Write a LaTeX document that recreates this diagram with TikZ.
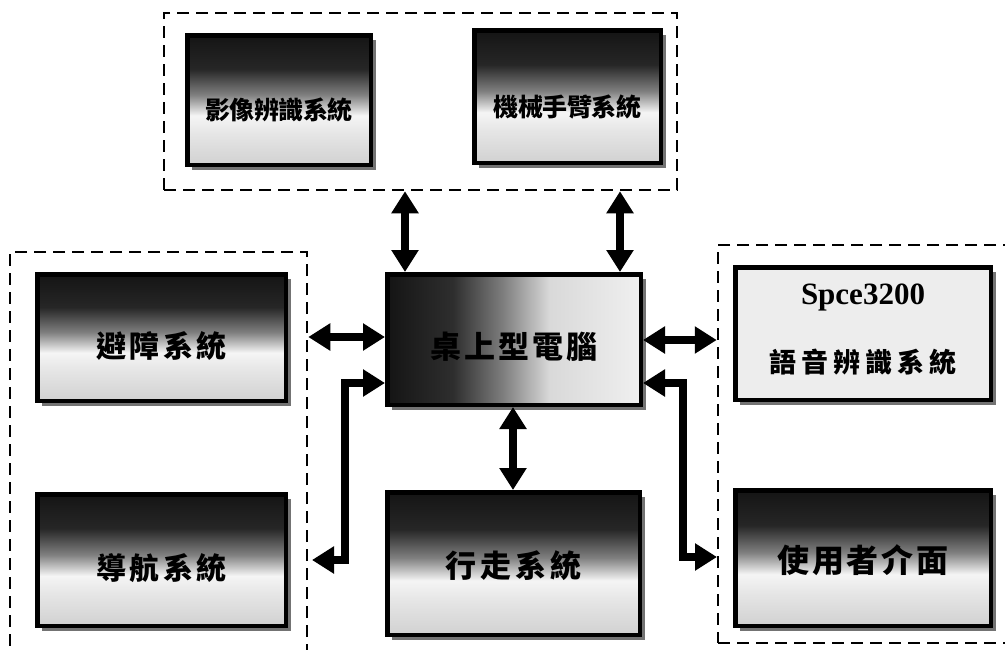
\documentclass[tikz,border=0pt]{standalone}
\usepackage{fontspec}
\setmainfont{Liberation Serif}
\newfontfamily\cjk{Noto Sans CJK TC}
\usetikzlibrary{arrows.meta,shadows,calc}
\pgfdeclareverticalshading{boxshade}{100bp}{color(0bp)=(black!18); color(25bp)=(black!18); color(37bp)=(black!10); color(44bp)=(black!4); color(52bp)=(black!50); color(62bp)=(black!85); color(75bp)=(black!92); color(100bp)=(black!92)}
\pgfdeclarehorizontalshading{pcshade}{100bp}{color(0bp)=(black!92); color(25bp)=(black!92); color(38bp)=(black!82); color(48bp)=(black!50); color(57bp)=(black!15); color(75bp)=(black!6); color(100bp)=(black!6)}
\newcommand{\lbl}[3]{{\cjk\bfseries\fontsize{#1}{#1}\selectfont\addfontfeatures{LetterSpace=#2}#3}}
\begin{document}
\begin{tikzpicture}[x=1pt,y=-1pt,
  sysbox/.style={draw=black, line width=4.5pt, inner sep=0pt,
    general shadow={fill=black!55, shadow xshift=5pt, shadow yshift=-5pt}},
  grad/.style={sysbox, shading=boxshade},
  group/.style={draw=black, line width=2.5pt, dash pattern=on 12pt off 7pt, inner sep=0pt},
  txt/.style={inner sep=0pt},
  biarrow/.style={line width=7.5pt, {Triangle[length=22pt,width=26pt]}-{Triangle[length=22pt,width=26pt]}},
]
\useasboundingbox (0,0) rectangle (1005,649);
% groups
\node[group, minimum width=513pt, minimum height=177pt] (T) at (420.5,101.5) {};
\node[group, minimum width=297pt, minimum height=430pt] (L) at (158.5,467) {};
\node[group, minimum width=320pt, minimum height=398pt] (R) at (878,444) {};
% boxes
\node[grad, minimum width=183.5pt, minimum height=129.5pt] (A) at (279,100) {};
\node[grad, minimum width=186.5pt, minimum height=132.5pt] (B) at (567.5,96.5) {};
\node[grad, minimum width=248.5pt, minimum height=126.5pt] (C) at (161.5,337.5) {};
\node[grad, minimum width=248.5pt, minimum height=131.5pt] (D) at (161.5,560) {};
\node[sysbox, shading=pcshade, minimum width=253.5pt, minimum height=130.5pt] (E) at (514,339.5) {};
\node[grad, minimum width=252.5pt, minimum height=142.5pt] (F) at (513.5,563.5) {};
\node[sysbox, fill=black!7, minimum width=255.5pt, minimum height=132.5pt] (G) at (863,333.5) {};
\node[grad, minimum width=255.5pt, minimum height=135.5pt] (H) at (863,558) {};
% labels
\node[txt] (At) at ([yshift=-10pt]A.center) {\lbl{25pt}{-2}{影像辨識系統}};
\node[txt] (Bt) at ([yshift=-10pt]B.center) {\lbl{25pt}{-2}{機械手臂系統}};
\node[txt] (Ct) at ([yshift=-9pt]C.center) {\lbl{30pt}{12}{避障系統}};
\node[txt] (Dt) at ([yshift=-8pt]D.center) {\lbl{30pt}{12}{導航系統}};
\node[txt] (Et) at ([yshift=-7pt]E.center) {\lbl{31pt}{10}{桌上型電腦}};
\node[txt] (Ft) at ([yshift=-2pt]F.center) {\lbl{31pt}{12}{行走系統}};
\node[txt] (Gt1) at ([yshift=36pt]G.center) {\fontsize{31pt}{31pt}\selectfont\bfseries Spce3200};
\node[txt] (Gt2) at ([yshift=-29pt]G.center) {\lbl{27pt}{18}{語音辨識系統}};
\node[txt] (Ht) at ([yshift=-2pt]H.center) {\lbl{32pt}{9}{使用者介面}};
% connectors
\coordinate (e1) at (405,0);
\coordinate (e2) at (620,0);
\draw[biarrow] (T.south -| e1) -- (E.north -| e1);
\draw[biarrow] (T.south -| e2) -- (E.north -| e2);
\coordinate (yl) at (0,337);
\draw[biarrow] (L.east |- yl) -- (E.west |- yl);
\coordinate (y2) at (0,383);
\coordinate (nl) at (312,560);
\draw[biarrow, line join=miter] (E.west |- y2) -| (345,560) -- (nl);
\coordinate (y3) at (0,340);
\draw[biarrow] (E.east |- y3) -- (R.west |- y3);
\coordinate (nr) at (717,557);
\draw[biarrow, line join=miter] (E.east |- y2) -| (683,557) -- (nr);
\coordinate (e3) at (513,0);
\draw[biarrow] (E.south -| e3) -- (F.north -| e3);
\end{tikzpicture}
\end{document}
